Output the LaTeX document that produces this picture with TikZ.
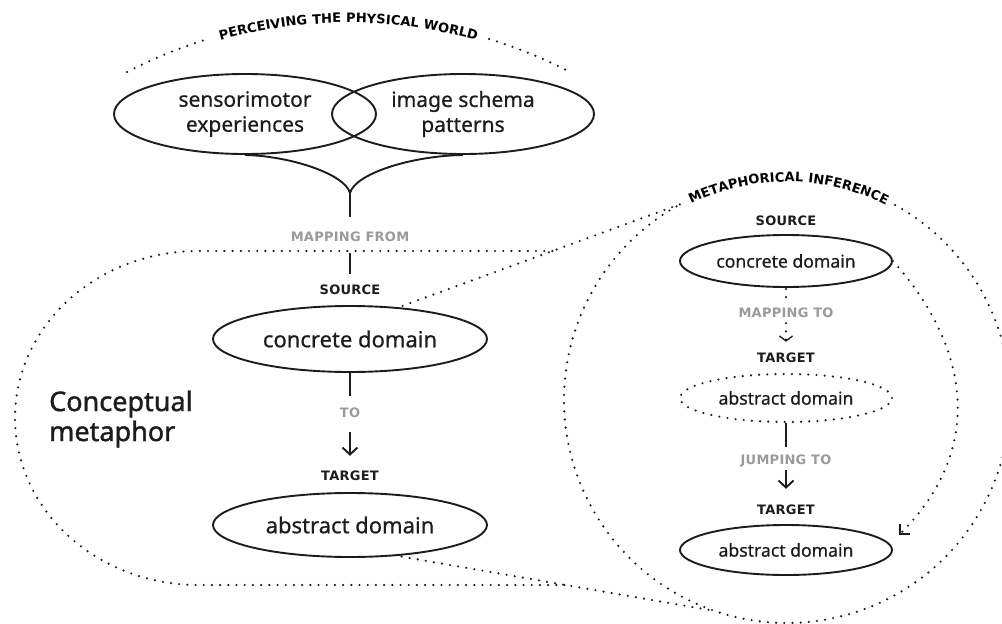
\documentclass[tikz,border=0pt]{standalone}
\usepackage{fontspec}
\setmainfont{Noto Sans}[FakeBold=0.6]
\newfontfamily\headfont{Noto Sans}[FakeBold=1.4]
\newfontfamily\capfont{DejaVu Sans}[LetterSpace=2]
\usetikzlibrary{shapes.geometric,arrows.meta,decorations.text}
\definecolor{inkc}{HTML}{1C1C1C}
\definecolor{labgray}{HTML}{9A9A9A}
\newcommand\lblfont{\capfont\bfseries\fontsize{13}{15}\selectfont}
\newcommand\arcfont{\capfont\bfseries\fontsize{13}{15}\selectfont}
\tikzset{
  ink/.style={draw=inkc, line width=1.9pt},
  dotline/.style={draw=inkc, line width=2.4pt, line cap=round, dash pattern=on 0pt off 8.2pt},
  dom/.style={ellipse, draw=inkc, line width=1.9pt, inner sep=0pt, align=center, text=inkc},
  topdom/.style={dom, minimum width=262pt, minimum height=80pt, font=\fontsize{21}{25}\selectfont},
  bigdom/.style={dom, minimum width=274pt, font=\fontsize{22}{25}\selectfont},
  smalldom/.style={dom, minimum width=212pt, font=\fontsize{17.6}{20}\selectfont},
  lbl/.style={font=\lblfont, text=inkc, inner sep=0pt, text height=9.4pt, text depth=0pt},
  glbl/.style={lbl, text=labgray},
  barb/.style={-{Straight Barb[length=7pt,width=15pt]}},
  smallbarb/.style={-{Straight Barb[length=5pt,width=13pt,line width=1.3pt]}},
  hookbarb/.style={-{Straight Barb[length=7pt,width=14pt,line width=2.2pt]}},
}
\begin{document}
\begin{tikzpicture}[x=1pt,y=-1pt]
\useasboundingbox (0,0) rectangle (1002,624);
\clip (0,0) rectangle (1002,624);

% ---------- perceiving the physical world ----------
\node[topdom] (sens) at (245,114) {sensorimotor\\experiences};
\node[topdom] (imsch) at (463,114) {image schema\\patterns};

\draw[dotline] plot[domain=-117.4:-107, samples=30, variable=\t] ({348.5+481*cos(\t)},{499+481*sin(\t)});
\draw[dotline] plot[domain=-73:-62.6, samples=30, variable=\t] ({348.5+481*cos(\t)},{499+481*sin(\t)});
\path[decorate, decoration={text along path, text={|\arcfont|PERCEIVING THE PHYSICAL WORLD}, text align={fit to path}, raise=-4.7pt}]
  plot[domain=-105.6:-74.4, samples=60, variable=\t] ({348.5+481*cos(\t)},{499+481*sin(\t)});

% brace joining both experiences
\coordinate (jn) at (350,193);
\draw[ink] (sens.south) .. controls (290,156) and (345,174) .. (jn);
\draw[ink] (imsch.south) .. controls (410,156) and (355,174) .. (jn);

% ---------- conceptual metaphor ----------
\node[glbl] (mapfrom) at (350,237) {MAPPING FROM};
\node[lbl] (srcL) at (350,290) {SOURCE};
\node[bigdom, minimum height=66pt] (cL) at (350,339) {concrete domain};
\node[glbl] (toL) at (350,413) {TO};
\node[lbl] (tgtL) at (350,476) {TARGET};
\node[bigdom, minimum height=64pt] (aL) at (350,525) {abstract domain};
\node[anchor=west, align=left, text=inkc, inner sep=0pt, font=\headfont\fontsize{27}{30}\selectfont] (cmeta) at (49,419) {Conceptual\\metaphor};

\draw[ink, shorten >=15.3pt] (jn) -- (mapfrom);
\draw[ink, shorten <=11.3pt, shorten >=11.3pt] (mapfrom) -- (srcL);
\draw[ink, shorten >=12.3pt] (cL) -- (toL);
\draw[ink, barb, shorten <=14.3pt, shorten >=15.3pt] (toL) -- (tgtL);

% ---------- metaphorical inference ----------
\node[lbl] (srcR) at (786,221) {SOURCE};
\node[smalldom, minimum height=52pt] (cR) at (786,261) {concrete domain};
\node[glbl] (mapto) at (786,313) {MAPPING TO};
\node[lbl] (tgtR1) at (786,358) {TARGET};
\node[smalldom, minimum height=48pt, dotline] (aR1) at (786,398) {abstract domain};
\node[glbl] (jump) at (786,460) {JUMPING TO};
\node[lbl] (tgtR2) at (786,510) {TARGET};
\node[smalldom, minimum height=50pt] (aR2) at (786,550) {abstract domain};

\draw[dotline, shorten <=1pt, shorten >=7.3pt] (cR) -- (mapto);
\draw[dotline, smallbarb, shorten <=5.3pt, shorten >=11.3pt] (mapto) -- (tgtR1);
\draw[ink, shorten >=8.3pt] (aR1) -- (jump);
\draw[ink, barb, shorten <=5.3pt, shorten >=16.3pt] (jump) -- (tgtR2);

\coordinate (hookend) at (899,535);
\draw[dotline, hookbarb] (cR.east) .. controls (968.7,345.7) and (986.3,447.7) .. (hookend);

% magnifying circle with its title
\draw[dotline] plot[domain=-61:241.5, samples=300, variable=\t] ({787+223*cos(\t)},{400+223*sin(\t)});
\path[decorate, decoration={text along path, text={|\arcfont|METAPHORICAL INFERENCE}, text align={fit to path}, raise=-4.7pt}]
  plot[domain=-116:-63, samples=60, variable=\t] ({787+223*cos(\t)},{400+223*sin(\t)});

% callout lines and the outline of the conceptual metaphor region
\coordinate (ct) at ({787+223*cos(-118.5)},{400+223*sin(-118.5)});
\coordinate (cb) at ({787+223*cos(109)},{400+223*sin(109)});
\draw[dotline, shorten <=4pt] (cL.33) -- (ct);
\draw[dotline, shorten <=4pt] (aL.327) -- (cb);
\coordinate (ht1) at (0,251);
\coordinate (ht2) at (700,251);
\coordinate (hb1) at (0,585);
\coordinate (hb2) at (700,585);
\coordinate (jt) at (intersection of cL.33--ct and ht1--ht2);
\coordinate (jb) at (intersection of aL.327--cb and hb1--hb2);
\draw[dotline] (jt) -- (198,251) -- plot[domain=-90:-270, samples=150, variable=\t] ({198+183*cos(\t)},{418+167*sin(\t)}) -- (jb);
\end{tikzpicture}
\end{document}
